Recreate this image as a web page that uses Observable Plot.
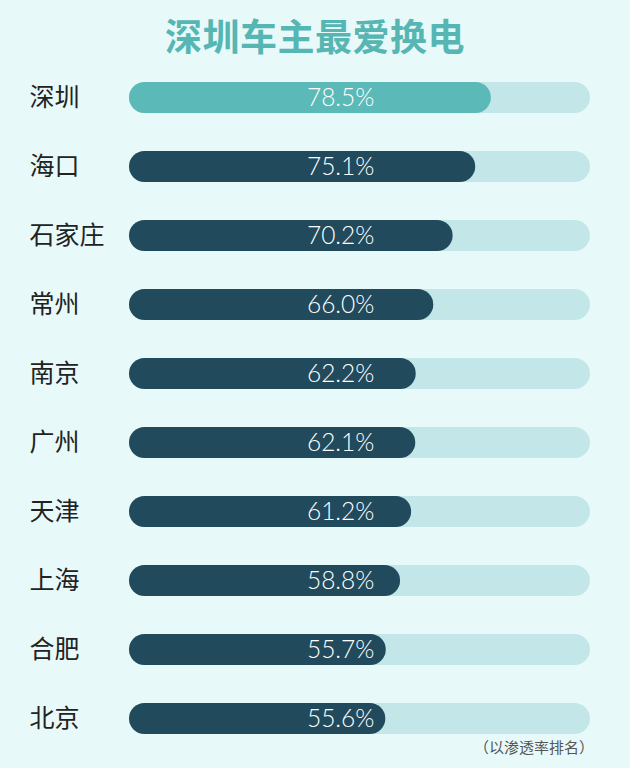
<!DOCTYPE html>
<html><head><meta charset="utf-8">
<script src="https://cdn.jsdelivr.net/npm/d3@7"></script>
<script src="https://cdn.jsdelivr.net/npm/@observablehq/plot@0.6"></script>
<style>
html,body{margin:0;padding:0;background:#e8f9f9;}
#wrap{position:relative;width:630px;height:768px;background:#e8f9f9;overflow:hidden;}
#title{height:63px;line-height:70px;text-align:center;font-family:"Noto Sans CJK SC",sans-serif;font-weight:700;font-size:37px;color:#55b6b4;letter-spacing:0.5px;}
#caption{position:absolute;right:36px;top:736px;font-family:"Noto Sans CJK SC",sans-serif;font-size:15px;color:#555;}
</style></head>
<body><div id="wrap"><div id="title">深圳车主最爱换电</div><div id="chart"></div><div id="caption">（以渗透率排名）</div></div>
<script>
const cities = ["深圳","海口","石家庄","常州","南京","广州","天津","上海","合肥","北京"];
const values = [78.5,75.1,70.2,66.0,62.2,62.1,61.2,58.8,55.7,55.6];
const highlight = "深圳";

const data = cities.map((c,i)=>({city:c, value:values[i]}));

const chart = Plot.plot({
  width:630, height:690,
  marginTop:0, marginBottom:0, marginLeft:129, marginRight:40,
  style:{background:"transparent", fontFamily:"'Noto Sans CJK SC', sans-serif"},
  x:{domain:[0,100], axis:null},
  y:{domain:cities, paddingInner:0.55, paddingOuter:0.275, label:null},
  marks:[
    Plot.barX(data,{x1:0, x2:100, y:"city", fill:"#c3e7e8", rx:15.5}),
    Plot.barX(data,{x1:0, x2:"value", y:"city", fill:d=>d.city===highlight?"#5bb9b7":"#214a5c", rx:15.5}),
    Plot.text(data,{x:45.8, y:"city", text:d=>d.value.toFixed(1)+"%", fill:"white", fontSize:24.5, fontWeight:300, fontFamily:"Lato, 'Open Sans', sans-serif", textAnchor:"middle"}),
    Plot.axisY({tickSize:0, textAnchor:"start", dx:-91, fontSize:25, fill:"#222", label:null})
  ]
});
document.getElementById("chart").appendChild(chart);
</script></body></html>
